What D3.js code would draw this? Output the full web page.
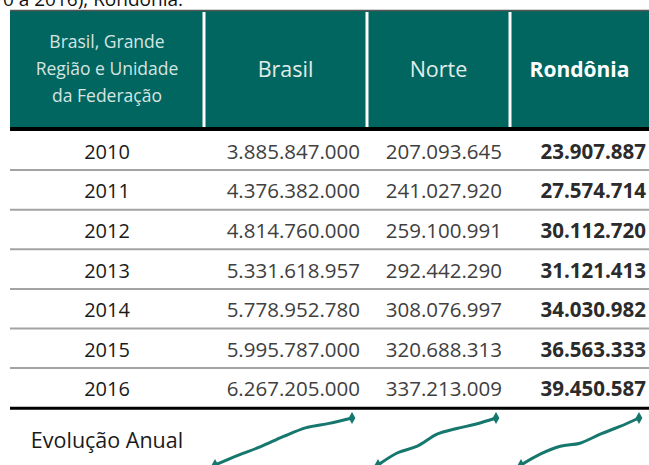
<!DOCTYPE html>
<html>
<head>
<meta charset="utf-8">
<script src="https://cdn.jsdelivr.net/npm/d3@7"></script>
<style>
  html, body { margin: 0; padding: 0; background: #fff; }
  svg { display: block; font-family: "Open Sans", sans-serif; }
</style>
</head>
<body>
<svg width="649" height="465"></svg>
<script>
var years = ["2010", "2011", "2012", "2013", "2014", "2015", "2016"];
var brasil = [3885847000, 4376382000, 4814760000, 5331618957, 5778952780, 5995787000, 6267205000];
var norte = [207093645, 241027920, 259100991, 292442290, 308076997, 320688313, 337213009];
var rondonia = [23907887, 27574714, 30112720, 31121413, 34030982, 36563333, 39450587];
var headers = ["Brasil", "Norte", "Rondônia"];
var firstHeader = ["Brasil, Grande", "Região e Unidade", "da Federação"];
var footLabel = "Evolução Anual";

var svg = d3.select("svg"),
    left = 10,
    right = 649,
    headTop = 11,
    headBottom = 127,
    rowTop = 131,
    rowH = 39.6,
    teal = "#00665f",
    ink = "#2b2b2b";

// column edges: label col + 3 value cols
var edges = [left, 204, 367, 510, right];
var series = [brasil, norte, rondonia];

var fmt = d3.formatLocale({decimal: ",", thousands: ".", grouping: [3]}).format(",d");

// clipped caption above the table
svg.append("text")
    .attr("x", 183).attr("y", 6)
    .attr("text-anchor", "end")
    .style("font-size", "19px")
    .attr("fill", "#111")
    .text("Amazônia Legal (2010 a 2016), Rondônia.");

// header block
svg.append("rect")
    .attr("x", left).attr("y", headTop)
    .attr("width", right - left).attr("height", headBottom - headTop)
    .attr("fill", teal);

svg.append("line")
    .attr("x1", left).attr("x2", right)
    .attr("y1", headTop - 0.5).attr("y2", headTop - 0.5)
    .attr("stroke", "#555").attr("stroke-width", 1.5);

svg.selectAll(".sep")
    .data(edges.slice(1, 4))
    .enter().append("line")
    .attr("class", "sep")
    .attr("x1", function (d) { return d; })
    .attr("x2", function (d) { return d; })
    .attr("y1", headTop + 1).attr("y2", headBottom)
    .attr("stroke", "#fff").attr("stroke-width", 3);

var headMid = (headTop + headBottom) / 2;

svg.append("text")
    .attr("x", (edges[0] + edges[1]) / 2)
    .attr("text-anchor", "middle")
    .attr("fill", "#d6e4e2")
    .style("font-size", "17.5px")
    .selectAll("tspan")
    .data(firstHeader)
    .enter().append("tspan")
    .attr("x", (edges[0] + edges[1]) / 2)
    .attr("y", function (d, i) { return headMid - 21 + i * 27; })
    .text(function (d) { return d; });

svg.selectAll(".head")
    .data(headers)
    .enter().append("text")
    .attr("class", "head")
    .attr("x", function (d, i) { return (edges[i + 1] + edges[i + 2]) / 2; })
    .attr("y", headMid + 8)
    .attr("text-anchor", "middle")
    .attr("fill", function (d, i) { return i == 2 ? "#fff" : "#e2ecea"; })
    .style("font-size", function (d, i) { return i == 2 ? "21px" : "21.5px"; })
    .style("font-weight", function (d, i) { return i == 2 ? "bold" : "normal"; })
    .text(function (d) { return d; });

svg.append("line")
    .attr("x1", left).attr("x2", right)
    .attr("y1", 129).attr("y2", 129)
    .attr("stroke", "#000").attr("stroke-width", 4);

// body rows
var y = d3.scaleBand().domain(years).range([rowTop, rowTop + rowH * years.length]);

var row = svg.selectAll(".row")
    .data(years)
    .enter().append("g")
    .attr("class", "row")
    .attr("transform", function (d) { return "translate(0," + y(d) + ")"; });

row.filter(function (d, i) { return i < years.length - 1; })
    .append("line")
    .attr("x1", left).attr("x2", right)
    .attr("y1", rowH - 0.5).attr("y2", rowH - 0.5)
    .attr("stroke", "#a3a3a3").attr("stroke-width", 2);

row.append("text")
    .attr("x", (edges[0] + edges[1]) / 2)
    .attr("y", rowH / 2 + 8)
    .attr("text-anchor", "middle")
    .attr("fill", "#1a1a1a")
    .style("font-size", "20px")
    .text(function (d) { return d; });

var rightPos = [360, 502, 646];
series.forEach(function (s, k) {
    row.append("text")
        .attr("x", rightPos[k])
        .attr("y", rowH / 2 + 8)
        .attr("text-anchor", "end")
        .attr("fill", k == 2 ? ink : "#404040")
        .style("font-size", k == 2 ? "20.5px" : "20.5px")
        .style("font-weight", k == 2 ? "bold" : "normal")
        .text(function (d, i) { return fmt(s[i]); });
});

var bodyBottom = rowTop + rowH * years.length;
svg.append("line")
    .attr("x1", left).attr("x2", right)
    .attr("y1", bodyBottom).attr("y2", bodyBottom)
    .attr("stroke", "#000").attr("stroke-width", 3);

// sparkline row
svg.append("text")
    .attr("x", (edges[0] + edges[1]) / 2)
    .attr("y", 448)
    .attr("text-anchor", "middle")
    .attr("fill", "#1a1a1a")
    .style("font-size", "21.5px")
    .text(footLabel);

var xIdx = d3.scalePoint().domain(d3.range(years.length));
var padL = [11, 11, 11], padR = [15, 14, 10];

series.forEach(function (s, k) {
    var xs = xIdx.copy().range([edges[k + 1] + padL[k], edges[k + 2] - padR[k]]);
    var ys = d3.scaleLinear().domain(d3.extent(s)).range([465, 418]);
    var line = d3.line()
        .curve(d3.curveCatmullRom.alpha(0.5))
        .x(function (d, i) { return xs(i); })
        .y(function (d) { return ys(d); });
    svg.append("path")
        .attr("d", line(s))
        .attr("fill", "none")
        .attr("stroke", "#15776d")
        .attr("stroke-width", 3);
    svg.selectAll(".mk" + k)
        .data([0, s.length - 1])
        .enter().append("path")
        .attr("class", "mk" + k)
        .attr("d", d3.symbol(d3.symbolDiamond, 40))
        .attr("transform", function (i) { return "translate(" + xs(i) + "," + ys(s[i]) + ")"; })
        .attr("fill", "#15776d");
});
</script>
</body>
</html>
